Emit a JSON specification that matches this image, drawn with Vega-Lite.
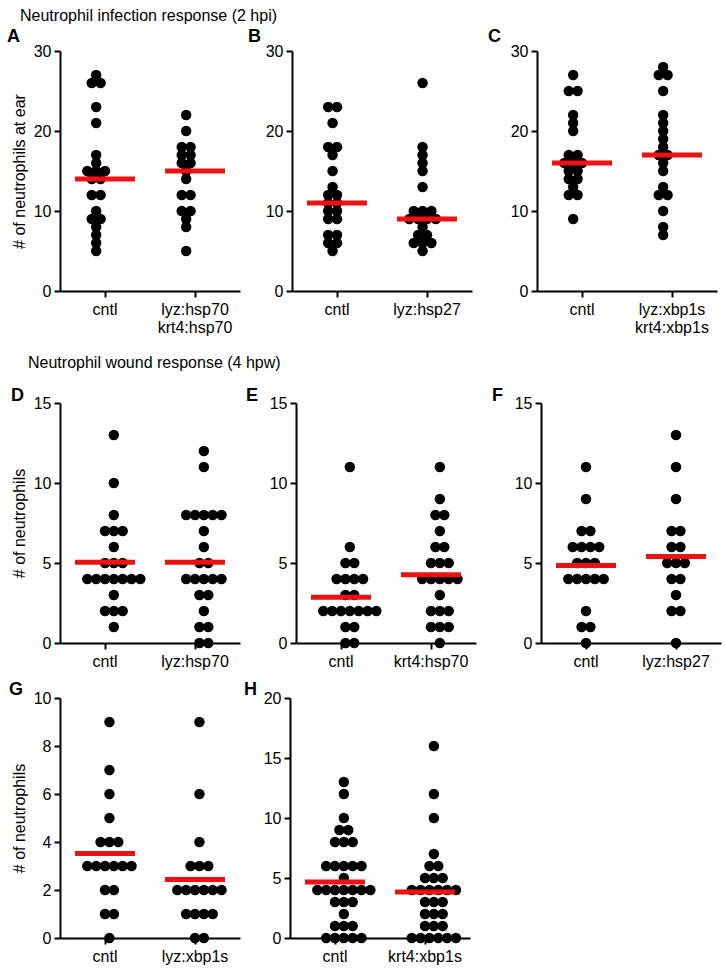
{
"$schema": "https://vega.github.io/schema/vega-lite/v6.json",
"padding": {"left": 7, "top": 8, "right": 3, "bottom": 5},
"background": "white",
"config": {
 "view": {"stroke": null},
 "font": "Liberation Sans",
 "axis": {"domainColor": "black", "domainWidth": 2, "tickColor": "black", "tickWidth": 2, "tickSize": 6, "labelColor": "black", "labelFontSize": 16, "labelPadding": 3, "grid": false, "titleFontSize": 16, "titleFontWeight": "normal", "titleColor": "black"},
 "title": {"color": "black", "fontWeight": "normal"}
},
"datasets": {
 "ctr": [
  {"p":"A","g":"cntl","m":14},{"p":"A","g":"lyz:hsp70 krt4:hsp70","m":15},
  {"p":"B","g":"cntl","m":11},{"p":"B","g":"lyz:hsp27","m":9},
  {"p":"C","g":"cntl","m":16},{"p":"C","g":"lyz:xbp1s krt4:xbp1s","m":17},
  {"p":"D","g":"cntl","m":5.05},{"p":"D","g":"lyz:hsp70","m":5.05},
  {"p":"E","g":"cntl","m":2.86},{"p":"E","g":"krt4:hsp70","m":4.27},
  {"p":"F","g":"cntl","m":4.85},{"p":"F","g":"lyz:hsp27","m":5.4},
  {"p":"G","g":"cntl","m":3.52},{"p":"G","g":"lyz:xbp1s","m":2.44},
  {"p":"H","g":"cntl","m":4.67},{"p":"H","g":"krt4:xbp1s","m":3.83}
 ],
 "pts": [
  {"p":"A","g":"cntl","v":27},{"p":"A","g":"cntl","v":26},{"p":"A","g":"cntl","v":26},{"p":"A","g":"cntl","v":23},{"p":"A","g":"cntl","v":21},{"p":"A","g":"cntl","v":17},{"p":"A","g":"cntl","v":16},{"p":"A","g":"cntl","v":15},{"p":"A","g":"cntl","v":15},{"p":"A","g":"cntl","v":15},{"p":"A","g":"cntl","v":14},{"p":"A","g":"cntl","v":14},{"p":"A","g":"cntl","v":12},{"p":"A","g":"cntl","v":12},{"p":"A","g":"cntl","v":10},{"p":"A","g":"cntl","v":9},{"p":"A","g":"cntl","v":9},{"p":"A","g":"cntl","v":8},{"p":"A","g":"cntl","v":7},{"p":"A","g":"cntl","v":6},{"p":"A","g":"cntl","v":5},
  {"p":"A","g":"lyz:hsp70 krt4:hsp70","v":22},{"p":"A","g":"lyz:hsp70 krt4:hsp70","v":20},{"p":"A","g":"lyz:hsp70 krt4:hsp70","v":18},{"p":"A","g":"lyz:hsp70 krt4:hsp70","v":18},{"p":"A","g":"lyz:hsp70 krt4:hsp70","v":17},{"p":"A","g":"lyz:hsp70 krt4:hsp70","v":17},{"p":"A","g":"lyz:hsp70 krt4:hsp70","v":16},{"p":"A","g":"lyz:hsp70 krt4:hsp70","v":16},{"p":"A","g":"lyz:hsp70 krt4:hsp70","v":15},{"p":"A","g":"lyz:hsp70 krt4:hsp70","v":14},{"p":"A","g":"lyz:hsp70 krt4:hsp70","v":12},{"p":"A","g":"lyz:hsp70 krt4:hsp70","v":12},{"p":"A","g":"lyz:hsp70 krt4:hsp70","v":10},{"p":"A","g":"lyz:hsp70 krt4:hsp70","v":10},{"p":"A","g":"lyz:hsp70 krt4:hsp70","v":9},{"p":"A","g":"lyz:hsp70 krt4:hsp70","v":8},{"p":"A","g":"lyz:hsp70 krt4:hsp70","v":5},
  {"p":"B","g":"cntl","v":23},{"p":"B","g":"cntl","v":23},{"p":"B","g":"cntl","v":21},{"p":"B","g":"cntl","v":18},{"p":"B","g":"cntl","v":18},{"p":"B","g":"cntl","v":17},{"p":"B","g":"cntl","v":15},{"p":"B","g":"cntl","v":13},{"p":"B","g":"cntl","v":12},{"p":"B","g":"cntl","v":12},{"p":"B","g":"cntl","v":11},{"p":"B","g":"cntl","v":11},{"p":"B","g":"cntl","v":10},{"p":"B","g":"cntl","v":10},{"p":"B","g":"cntl","v":9},{"p":"B","g":"cntl","v":9},{"p":"B","g":"cntl","v":7},{"p":"B","g":"cntl","v":7},{"p":"B","g":"cntl","v":6},{"p":"B","g":"cntl","v":6},{"p":"B","g":"cntl","v":5},
  {"p":"B","g":"lyz:hsp27","v":26},{"p":"B","g":"lyz:hsp27","v":18},{"p":"B","g":"lyz:hsp27","v":17},{"p":"B","g":"lyz:hsp27","v":16},{"p":"B","g":"lyz:hsp27","v":15},{"p":"B","g":"lyz:hsp27","v":13},{"p":"B","g":"lyz:hsp27","v":10},{"p":"B","g":"lyz:hsp27","v":10},{"p":"B","g":"lyz:hsp27","v":10},{"p":"B","g":"lyz:hsp27","v":9},{"p":"B","g":"lyz:hsp27","v":9},{"p":"B","g":"lyz:hsp27","v":9},{"p":"B","g":"lyz:hsp27","v":9},{"p":"B","g":"lyz:hsp27","v":8},{"p":"B","g":"lyz:hsp27","v":7},{"p":"B","g":"lyz:hsp27","v":7},{"p":"B","g":"lyz:hsp27","v":6},{"p":"B","g":"lyz:hsp27","v":6},{"p":"B","g":"lyz:hsp27","v":6},{"p":"B","g":"lyz:hsp27","v":5},
  {"p":"C","g":"cntl","v":27},{"p":"C","g":"cntl","v":25},{"p":"C","g":"cntl","v":25},{"p":"C","g":"cntl","v":22},{"p":"C","g":"cntl","v":21},{"p":"C","g":"cntl","v":20},{"p":"C","g":"cntl","v":17},{"p":"C","g":"cntl","v":17},{"p":"C","g":"cntl","v":16},{"p":"C","g":"cntl","v":16},{"p":"C","g":"cntl","v":16},{"p":"C","g":"cntl","v":15},{"p":"C","g":"cntl","v":15},{"p":"C","g":"cntl","v":14},{"p":"C","g":"cntl","v":14},{"p":"C","g":"cntl","v":13},{"p":"C","g":"cntl","v":12},{"p":"C","g":"cntl","v":12},{"p":"C","g":"cntl","v":9},
  {"p":"C","g":"lyz:xbp1s krt4:xbp1s","v":28},{"p":"C","g":"lyz:xbp1s krt4:xbp1s","v":27},{"p":"C","g":"lyz:xbp1s krt4:xbp1s","v":27},{"p":"C","g":"lyz:xbp1s krt4:xbp1s","v":25},{"p":"C","g":"lyz:xbp1s krt4:xbp1s","v":22},{"p":"C","g":"lyz:xbp1s krt4:xbp1s","v":21},{"p":"C","g":"lyz:xbp1s krt4:xbp1s","v":20},{"p":"C","g":"lyz:xbp1s krt4:xbp1s","v":19},{"p":"C","g":"lyz:xbp1s krt4:xbp1s","v":18},{"p":"C","g":"lyz:xbp1s krt4:xbp1s","v":17},{"p":"C","g":"lyz:xbp1s krt4:xbp1s","v":17},{"p":"C","g":"lyz:xbp1s krt4:xbp1s","v":16},{"p":"C","g":"lyz:xbp1s krt4:xbp1s","v":15},{"p":"C","g":"lyz:xbp1s krt4:xbp1s","v":13},{"p":"C","g":"lyz:xbp1s krt4:xbp1s","v":12},{"p":"C","g":"lyz:xbp1s krt4:xbp1s","v":12},{"p":"C","g":"lyz:xbp1s krt4:xbp1s","v":10},{"p":"C","g":"lyz:xbp1s krt4:xbp1s","v":8},{"p":"C","g":"lyz:xbp1s krt4:xbp1s","v":7},
  {"p":"D","g":"cntl","v":13},{"p":"D","g":"cntl","v":10},{"p":"D","g":"cntl","v":8},{"p":"D","g":"cntl","v":7},{"p":"D","g":"cntl","v":7},{"p":"D","g":"cntl","v":7},{"p":"D","g":"cntl","v":6},{"p":"D","g":"cntl","v":5},{"p":"D","g":"cntl","v":5},{"p":"D","g":"cntl","v":5},{"p":"D","g":"cntl","v":4},{"p":"D","g":"cntl","v":4},{"p":"D","g":"cntl","v":4},{"p":"D","g":"cntl","v":4},{"p":"D","g":"cntl","v":4},{"p":"D","g":"cntl","v":4},{"p":"D","g":"cntl","v":4},{"p":"D","g":"cntl","v":3},{"p":"D","g":"cntl","v":2},{"p":"D","g":"cntl","v":2},{"p":"D","g":"cntl","v":2},{"p":"D","g":"cntl","v":1},
  {"p":"D","g":"lyz:hsp70","v":12},{"p":"D","g":"lyz:hsp70","v":11},{"p":"D","g":"lyz:hsp70","v":8},{"p":"D","g":"lyz:hsp70","v":8},{"p":"D","g":"lyz:hsp70","v":8},{"p":"D","g":"lyz:hsp70","v":8},{"p":"D","g":"lyz:hsp70","v":8},{"p":"D","g":"lyz:hsp70","v":7},{"p":"D","g":"lyz:hsp70","v":6},{"p":"D","g":"lyz:hsp70","v":5},{"p":"D","g":"lyz:hsp70","v":5},{"p":"D","g":"lyz:hsp70","v":4},{"p":"D","g":"lyz:hsp70","v":4},{"p":"D","g":"lyz:hsp70","v":4},{"p":"D","g":"lyz:hsp70","v":4},{"p":"D","g":"lyz:hsp70","v":4},{"p":"D","g":"lyz:hsp70","v":3},{"p":"D","g":"lyz:hsp70","v":3},{"p":"D","g":"lyz:hsp70","v":2},{"p":"D","g":"lyz:hsp70","v":1},{"p":"D","g":"lyz:hsp70","v":1},{"p":"D","g":"lyz:hsp70","v":0},{"p":"D","g":"lyz:hsp70","v":0},
  {"p":"E","g":"cntl","v":11},{"p":"E","g":"cntl","v":6},{"p":"E","g":"cntl","v":5},{"p":"E","g":"cntl","v":5},{"p":"E","g":"cntl","v":4},{"p":"E","g":"cntl","v":4},{"p":"E","g":"cntl","v":4},{"p":"E","g":"cntl","v":4},{"p":"E","g":"cntl","v":3},{"p":"E","g":"cntl","v":3},{"p":"E","g":"cntl","v":2},{"p":"E","g":"cntl","v":2},{"p":"E","g":"cntl","v":2},{"p":"E","g":"cntl","v":2},{"p":"E","g":"cntl","v":2},{"p":"E","g":"cntl","v":2},{"p":"E","g":"cntl","v":2},{"p":"E","g":"cntl","v":1},{"p":"E","g":"cntl","v":1},{"p":"E","g":"cntl","v":0},{"p":"E","g":"cntl","v":0},
  {"p":"E","g":"krt4:hsp70","v":11},{"p":"E","g":"krt4:hsp70","v":9},{"p":"E","g":"krt4:hsp70","v":8},{"p":"E","g":"krt4:hsp70","v":8},{"p":"E","g":"krt4:hsp70","v":7},{"p":"E","g":"krt4:hsp70","v":6},{"p":"E","g":"krt4:hsp70","v":6},{"p":"E","g":"krt4:hsp70","v":5},{"p":"E","g":"krt4:hsp70","v":5},{"p":"E","g":"krt4:hsp70","v":5},{"p":"E","g":"krt4:hsp70","v":4},{"p":"E","g":"krt4:hsp70","v":4},{"p":"E","g":"krt4:hsp70","v":4},{"p":"E","g":"krt4:hsp70","v":4},{"p":"E","g":"krt4:hsp70","v":4},{"p":"E","g":"krt4:hsp70","v":3},{"p":"E","g":"krt4:hsp70","v":2},{"p":"E","g":"krt4:hsp70","v":2},{"p":"E","g":"krt4:hsp70","v":2},{"p":"E","g":"krt4:hsp70","v":1},{"p":"E","g":"krt4:hsp70","v":1},{"p":"E","g":"krt4:hsp70","v":1},{"p":"E","g":"krt4:hsp70","v":0},
  {"p":"F","g":"cntl","v":11},{"p":"F","g":"cntl","v":9},{"p":"F","g":"cntl","v":7},{"p":"F","g":"cntl","v":7},{"p":"F","g":"cntl","v":6},{"p":"F","g":"cntl","v":6},{"p":"F","g":"cntl","v":6},{"p":"F","g":"cntl","v":6},{"p":"F","g":"cntl","v":5},{"p":"F","g":"cntl","v":5},{"p":"F","g":"cntl","v":5},{"p":"F","g":"cntl","v":4},{"p":"F","g":"cntl","v":4},{"p":"F","g":"cntl","v":4},{"p":"F","g":"cntl","v":4},{"p":"F","g":"cntl","v":4},{"p":"F","g":"cntl","v":2},{"p":"F","g":"cntl","v":1},{"p":"F","g":"cntl","v":1},{"p":"F","g":"cntl","v":0},
  {"p":"F","g":"lyz:hsp27","v":13},{"p":"F","g":"lyz:hsp27","v":11},{"p":"F","g":"lyz:hsp27","v":9},{"p":"F","g":"lyz:hsp27","v":7},{"p":"F","g":"lyz:hsp27","v":7},{"p":"F","g":"lyz:hsp27","v":6},{"p":"F","g":"lyz:hsp27","v":6},{"p":"F","g":"lyz:hsp27","v":5},{"p":"F","g":"lyz:hsp27","v":5},{"p":"F","g":"lyz:hsp27","v":5},{"p":"F","g":"lyz:hsp27","v":4},{"p":"F","g":"lyz:hsp27","v":4},{"p":"F","g":"lyz:hsp27","v":3},{"p":"F","g":"lyz:hsp27","v":2},{"p":"F","g":"lyz:hsp27","v":2},{"p":"F","g":"lyz:hsp27","v":0},
  {"p":"G","g":"cntl","v":9},{"p":"G","g":"cntl","v":7},{"p":"G","g":"cntl","v":6},{"p":"G","g":"cntl","v":5},{"p":"G","g":"cntl","v":4},{"p":"G","g":"cntl","v":4},{"p":"G","g":"cntl","v":4},{"p":"G","g":"cntl","v":3},{"p":"G","g":"cntl","v":3},{"p":"G","g":"cntl","v":3},{"p":"G","g":"cntl","v":3},{"p":"G","g":"cntl","v":3},{"p":"G","g":"cntl","v":3},{"p":"G","g":"cntl","v":2},{"p":"G","g":"cntl","v":2},{"p":"G","g":"cntl","v":1},{"p":"G","g":"cntl","v":1},{"p":"G","g":"cntl","v":0},
  {"p":"G","g":"lyz:xbp1s","v":9},{"p":"G","g":"lyz:xbp1s","v":6},{"p":"G","g":"lyz:xbp1s","v":4},{"p":"G","g":"lyz:xbp1s","v":3},{"p":"G","g":"lyz:xbp1s","v":3},{"p":"G","g":"lyz:xbp1s","v":3},{"p":"G","g":"lyz:xbp1s","v":2},{"p":"G","g":"lyz:xbp1s","v":2},{"p":"G","g":"lyz:xbp1s","v":2},{"p":"G","g":"lyz:xbp1s","v":2},{"p":"G","g":"lyz:xbp1s","v":2},{"p":"G","g":"lyz:xbp1s","v":2},{"p":"G","g":"lyz:xbp1s","v":1},{"p":"G","g":"lyz:xbp1s","v":1},{"p":"G","g":"lyz:xbp1s","v":1},{"p":"G","g":"lyz:xbp1s","v":1},{"p":"G","g":"lyz:xbp1s","v":0},{"p":"G","g":"lyz:xbp1s","v":0},
  {"p":"H","g":"cntl","v":13},{"p":"H","g":"cntl","v":12},{"p":"H","g":"cntl","v":10},{"p":"H","g":"cntl","v":9},{"p":"H","g":"cntl","v":9},{"p":"H","g":"cntl","v":8},{"p":"H","g":"cntl","v":8},{"p":"H","g":"cntl","v":8},{"p":"H","g":"cntl","v":6},{"p":"H","g":"cntl","v":6},{"p":"H","g":"cntl","v":6},{"p":"H","g":"cntl","v":6},{"p":"H","g":"cntl","v":6},{"p":"H","g":"cntl","v":5},{"p":"H","g":"cntl","v":4},{"p":"H","g":"cntl","v":4},{"p":"H","g":"cntl","v":4},{"p":"H","g":"cntl","v":4},{"p":"H","g":"cntl","v":4},{"p":"H","g":"cntl","v":4},{"p":"H","g":"cntl","v":4},{"p":"H","g":"cntl","v":3},{"p":"H","g":"cntl","v":3},{"p":"H","g":"cntl","v":3},{"p":"H","g":"cntl","v":2},{"p":"H","g":"cntl","v":1},{"p":"H","g":"cntl","v":1},{"p":"H","g":"cntl","v":1},{"p":"H","g":"cntl","v":0},{"p":"H","g":"cntl","v":0},{"p":"H","g":"cntl","v":0},{"p":"H","g":"cntl","v":0},{"p":"H","g":"cntl","v":0},
  {"p":"H","g":"krt4:xbp1s","v":16},{"p":"H","g":"krt4:xbp1s","v":12},{"p":"H","g":"krt4:xbp1s","v":10},{"p":"H","g":"krt4:xbp1s","v":7},{"p":"H","g":"krt4:xbp1s","v":6},{"p":"H","g":"krt4:xbp1s","v":6},{"p":"H","g":"krt4:xbp1s","v":5},{"p":"H","g":"krt4:xbp1s","v":5},{"p":"H","g":"krt4:xbp1s","v":5},{"p":"H","g":"krt4:xbp1s","v":4},{"p":"H","g":"krt4:xbp1s","v":4},{"p":"H","g":"krt4:xbp1s","v":4},{"p":"H","g":"krt4:xbp1s","v":4},{"p":"H","g":"krt4:xbp1s","v":4},{"p":"H","g":"krt4:xbp1s","v":4},{"p":"H","g":"krt4:xbp1s","v":3},{"p":"H","g":"krt4:xbp1s","v":3},{"p":"H","g":"krt4:xbp1s","v":3},{"p":"H","g":"krt4:xbp1s","v":2},{"p":"H","g":"krt4:xbp1s","v":2},{"p":"H","g":"krt4:xbp1s","v":2},{"p":"H","g":"krt4:xbp1s","v":1},{"p":"H","g":"krt4:xbp1s","v":1},{"p":"H","g":"krt4:xbp1s","v":1},{"p":"H","g":"krt4:xbp1s","v":0},{"p":"H","g":"krt4:xbp1s","v":0},{"p":"H","g":"krt4:xbp1s","v":0},{"p":"H","g":"krt4:xbp1s","v":0},{"p":"H","g":"krt4:xbp1s","v":0},{"p":"H","g":"krt4:xbp1s","v":0}
 ]
},
"spacing": 20,
"vconcat": [
 {
  "title": {"text": "Neutrophil infection response (2 hpi)", "anchor": "start", "frame": "bounds", "dx": 13, "fontSize": 16, "fontWeight": "normal", "offset": 4},
  "spacing": 8,
  "hconcat": [
   {"title": {"text": "A", "anchor": "start", "frame": "group", "dx": -53, "fontSize": 18, "fontWeight": "bold", "offset": -3},
    "width": 180, "height": 240,
    "layer": [
     {"data": {"name": "pts"},
      "transform": [{"filter": "datum.p == 'A'"}, {"window": [{"op": "count", "as": "one"}], "frame": [0, 0]}, {"stack": "one", "groupby": ["g", "v"], "offset": "center", "as": ["s0", "s1"]}],
      "mark": {"type": "circle", "size": 110, "color": "black", "opacity": 1},
      "encoding": {
       "x": {"field": "g", "type": "nominal", "title": null, "scale": {"type": "band", "paddingInner": 0, "paddingOuter": 0, "domain": ["cntl", "lyz:hsp70 krt4:hsp70"]}, "axis": {"labelAngle": 0, "bandPosition": 0.5, "labelExpr": "split(datum.label, ' ')", "labelLineHeight": 18, "labelPadding": 4}},
       "y": {"field": "v", "type": "quantitative", "title": "# of neutrophils at ear", "scale": {"domain": [0, 30], "nice": false}, "axis": {"values": [0, 5, 10, 15, 20, 25, 30], "titlePadding": 6}},
       "xOffset": {"field": "s0", "type": "quantitative", "scale": {"domain": [-3.091, 5.091], "range": [0, 90], "nice": false, "zero": false}}
      }},
     {"data": {"name": "ctr"}, "transform": [{"filter": "datum.p == 'A'"}],
      "mark": {"type": "tick", "color": "#ee1111", "opacity": 1, "thickness": 5, "size": 60},
      "encoding": {"x": {"field": "g", "type": "nominal", "title": null}, "y": {"field": "m", "type": "quantitative", "title": "# of neutrophils at ear"}}}
    ]},
   {"title": {"text": "B", "anchor": "start", "frame": "group", "dx": -44, "fontSize": 18, "fontWeight": "bold", "offset": -3},
    "width": 180, "height": 240,
    "layer": [
     {"data": {"name": "pts"},
      "transform": [{"filter": "datum.p == 'B'"}, {"window": [{"op": "count", "as": "one"}], "frame": [0, 0]}, {"stack": "one", "groupby": ["g", "v"], "offset": "center", "as": ["s0", "s1"]}],
      "mark": {"type": "circle", "size": 110, "color": "black", "opacity": 1},
      "encoding": {
       "x": {"field": "g", "type": "nominal", "title": null, "scale": {"type": "band", "paddingInner": 0, "paddingOuter": 0, "domain": ["cntl", "lyz:hsp27"]}, "axis": {"labelAngle": 0, "bandPosition": 0.5, "labelPadding": 4}},
       "y": {"field": "v", "type": "quantitative", "title": null, "scale": {"domain": [0, 30], "nice": false}, "axis": {"values": [0, 5, 10, 15, 20, 25, 30]}},
       "xOffset": {"field": "s0", "type": "quantitative", "scale": {"domain": [-2.591, 5.591], "range": [0, 90], "nice": false, "zero": false}}
      }},
     {"data": {"name": "ctr"}, "transform": [{"filter": "datum.p == 'B'"}],
      "mark": {"type": "tick", "color": "#ee1111", "opacity": 1, "thickness": 5, "size": 60},
      "encoding": {"x": {"field": "g", "type": "nominal", "title": null}, "y": {"field": "m", "type": "quantitative", "title": null}}}
    ]},
   {"title": {"text": "C", "anchor": "start", "frame": "group", "dx": -49, "fontSize": 18, "fontWeight": "bold", "offset": -3},
    "width": 180, "height": 240,
    "layer": [
     {"data": {"name": "pts"},
      "transform": [{"filter": "datum.p == 'C'"}, {"window": [{"op": "count", "as": "one"}], "frame": [0, 0]}, {"stack": "one", "groupby": ["g", "v"], "offset": "center", "as": ["s0", "s1"]}],
      "mark": {"type": "circle", "size": 110, "color": "black", "opacity": 1},
      "encoding": {
       "x": {"field": "g", "type": "nominal", "title": null, "scale": {"type": "band", "paddingInner": 0, "paddingOuter": 0, "domain": ["cntl", "lyz:xbp1s krt4:xbp1s"]}, "axis": {"labelAngle": 0, "bandPosition": 0.5, "labelExpr": "split(datum.label, ' ')", "labelLineHeight": 18, "labelPadding": 4}},
       "y": {"field": "v", "type": "quantitative", "title": null, "scale": {"domain": [0, 30], "nice": false}, "axis": {"values": [0, 5, 10, 15, 20, 25, 30], "minExtent": 57}},
       "xOffset": {"field": "s0", "type": "quantitative", "scale": {"domain": [-3.091, 5.091], "range": [0, 90], "nice": false, "zero": false}}
      }},
     {"data": {"name": "ctr"}, "transform": [{"filter": "datum.p == 'C'"}],
      "mark": {"type": "tick", "color": "#ee1111", "opacity": 1, "thickness": 5, "size": 60},
      "encoding": {"x": {"field": "g", "type": "nominal", "title": null}, "y": {"field": "m", "type": "quantitative", "title": null}}}
    ]}
  ]
 },
 {
  "spacing": 12,
  "vconcat": [
   {
    "title": {"text": "Neutrophil wound response (4 hpw)", "anchor": "start", "frame": "bounds", "dx": 17, "fontSize": 16, "fontWeight": "normal", "offset": 16},
    "spacing": 6,
    "hconcat": [
     {"title": {"text": "D", "anchor": "start", "frame": "group", "dx": -49, "fontSize": 18, "fontWeight": "bold", "offset": -10},
      "width": 180, "height": 240,
      "layer": [
       {"data": {"name": "pts"},
        "transform": [{"filter": "datum.p == 'D'"}, {"window": [{"op": "count", "as": "one"}], "frame": [0, 0]}, {"stack": "one", "groupby": ["g", "v"], "offset": "center", "as": ["s0", "s1"]}],
        "mark": {"type": "circle", "size": 110, "color": "black", "opacity": 1},
        "encoding": {
         "x": {"field": "g", "type": "nominal", "title": null, "scale": {"type": "band", "paddingInner": 0, "paddingOuter": 0, "domain": ["cntl", "lyz:hsp70"]}, "axis": {"labelAngle": 0, "bandPosition": 0.5, "labelPadding": 4}},
         "y": {"field": "v", "type": "quantitative", "title": "# of neutrophils", "scale": {"domain": [0, 15], "nice": false}, "axis": {"values": [0, 5, 10, 15], "titlePadding": 6}},
         "xOffset": {"field": "s0", "type": "quantitative", "scale": {"domain": [-1.091, 7.091], "range": [0, 90], "nice": false, "zero": false}}
        }},
       {"data": {"name": "ctr"}, "transform": [{"filter": "datum.p == 'D'"}],
        "mark": {"type": "tick", "color": "#ee1111", "opacity": 1, "thickness": 5, "size": 60},
        "encoding": {"x": {"field": "g", "type": "nominal", "title": null}, "y": {"field": "m", "type": "quantitative", "title": "# of neutrophils"}}}
      ]},
     {"title": {"text": "E", "anchor": "start", "frame": "group", "dx": -50, "fontSize": 18, "fontWeight": "bold", "offset": -10},
      "width": 180, "height": 240,
      "layer": [
       {"data": {"name": "pts"},
        "transform": [{"filter": "datum.p == 'E'"}, {"window": [{"op": "count", "as": "one"}], "frame": [0, 0]}, {"stack": "one", "groupby": ["g", "v"], "offset": "center", "as": ["s0", "s1"]}],
        "mark": {"type": "circle", "size": 110, "color": "black", "opacity": 1},
        "encoding": {
         "x": {"field": "g", "type": "nominal", "title": null, "scale": {"type": "band", "paddingInner": 0, "paddingOuter": 0, "domain": ["cntl", "krt4:hsp70"]}, "axis": {"labelAngle": 0, "bandPosition": 0.5, "labelPadding": 4}},
         "y": {"field": "v", "type": "quantitative", "title": null, "scale": {"domain": [0, 15], "nice": false}, "axis": {"values": [0, 5, 10, 15]}},
         "xOffset": {"field": "s0", "type": "quantitative", "scale": {"domain": [-1.091, 7.091], "range": [0, 90], "nice": false, "zero": false}}
        }},
       {"data": {"name": "ctr"}, "transform": [{"filter": "datum.p == 'E'"}],
        "mark": {"type": "tick", "color": "#ee1111", "opacity": 1, "thickness": 5, "size": 60},
        "encoding": {"x": {"field": "g", "type": "nominal", "title": null}, "y": {"field": "m", "type": "quantitative", "title": null}}}
      ]},
     {"title": {"text": "F", "anchor": "start", "frame": "group", "dx": -49, "fontSize": 18, "fontWeight": "bold", "offset": -10},
      "width": 180, "height": 240,
      "layer": [
       {"data": {"name": "pts"},
        "transform": [{"filter": "datum.p == 'F'"}, {"window": [{"op": "count", "as": "one"}], "frame": [0, 0]}, {"stack": "one", "groupby": ["g", "v"], "offset": "center", "as": ["s0", "s1"]}],
        "mark": {"type": "circle", "size": 110, "color": "black", "opacity": 1},
        "encoding": {
         "x": {"field": "g", "type": "nominal", "title": null, "scale": {"type": "band", "paddingInner": 0, "paddingOuter": 0, "domain": ["cntl", "lyz:hsp27"]}, "axis": {"labelAngle": 0, "bandPosition": 0.5, "labelPadding": 4}},
         "y": {"field": "v", "type": "quantitative", "title": null, "scale": {"domain": [0, 15], "nice": false}, "axis": {"values": [0, 5, 10, 15], "minExtent": 59}},
         "xOffset": {"field": "s0", "type": "quantitative", "scale": {"domain": [-2.091, 6.091], "range": [0, 90], "nice": false, "zero": false}}
        }},
       {"data": {"name": "ctr"}, "transform": [{"filter": "datum.p == 'F'"}],
        "mark": {"type": "tick", "color": "#ee1111", "opacity": 1, "thickness": 5, "size": 60},
        "encoding": {"x": {"field": "g", "type": "nominal", "title": null}, "y": {"field": "m", "type": "quantitative", "title": null}}}
      ]}
    ]
   },
   {
    "spacing": 4,
    "hconcat": [
     {"title": {"text": "G", "anchor": "start", "frame": "group", "dx": -51, "fontSize": 18, "fontWeight": "bold", "offset": -9},
      "width": 180, "height": 240,
      "layer": [
       {"data": {"name": "pts"},
        "transform": [{"filter": "datum.p == 'G'"}, {"window": [{"op": "count", "as": "one"}], "frame": [0, 0]}, {"stack": "one", "groupby": ["g", "v"], "offset": "center", "as": ["s0", "s1"]}],
        "mark": {"type": "circle", "size": 110, "color": "black", "opacity": 1},
        "encoding": {
         "x": {"field": "g", "type": "nominal", "title": null, "scale": {"type": "band", "paddingInner": 0, "paddingOuter": 0, "domain": ["cntl", "lyz:xbp1s"]}, "axis": {"labelAngle": 0, "bandPosition": 0.5, "labelPadding": 4}},
         "y": {"field": "v", "type": "quantitative", "title": "# of neutrophils", "scale": {"domain": [0, 10], "nice": false}, "axis": {"values": [0, 2, 4, 6, 8, 10], "titlePadding": 6}},
         "xOffset": {"field": "s0", "type": "quantitative", "scale": {"domain": [-1.591, 6.591], "range": [0, 90], "nice": false, "zero": false}}
        }},
       {"data": {"name": "ctr"}, "transform": [{"filter": "datum.p == 'G'"}],
        "mark": {"type": "tick", "color": "#ee1111", "opacity": 1, "thickness": 5, "size": 60},
        "encoding": {"x": {"field": "g", "type": "nominal", "title": null}, "y": {"field": "m", "type": "quantitative", "title": "# of neutrophils"}}}
      ]},
     {"title": {"text": "H", "anchor": "start", "frame": "group", "dx": -46, "fontSize": 18, "fontWeight": "bold", "offset": -9},
      "width": 180, "height": 240,
      "layer": [
       {"data": {"name": "pts"},
        "transform": [{"filter": "datum.p == 'H'"}, {"window": [{"op": "count", "as": "one"}], "frame": [0, 0]}, {"stack": "one", "groupby": ["g", "v"], "offset": "center", "as": ["s0", "s1"]}],
        "mark": {"type": "circle", "size": 110, "color": "black", "opacity": 1},
        "encoding": {
         "x": {"field": "g", "type": "nominal", "title": null, "scale": {"type": "band", "paddingInner": 0, "paddingOuter": 0, "domain": ["cntl", "krt4:xbp1s"]}, "axis": {"labelAngle": 0, "bandPosition": 0.5, "labelPadding": 4}},
         "y": {"field": "v", "type": "quantitative", "title": null, "scale": {"domain": [0, 20], "nice": false}, "axis": {"values": [0, 5, 10, 15, 20]}},
         "xOffset": {"field": "s0", "type": "quantitative", "scale": {"domain": [-1.091, 7.091], "range": [0, 90], "nice": false, "zero": false}}
        }},
       {"data": {"name": "ctr"}, "transform": [{"filter": "datum.p == 'H'"}],
        "mark": {"type": "tick", "color": "#ee1111", "opacity": 1, "thickness": 5, "size": 60},
        "encoding": {"x": {"field": "g", "type": "nominal", "title": null}, "y": {"field": "m", "type": "quantitative", "title": null}}}
      ]}
    ]
   }
  ]
 }
]
}
